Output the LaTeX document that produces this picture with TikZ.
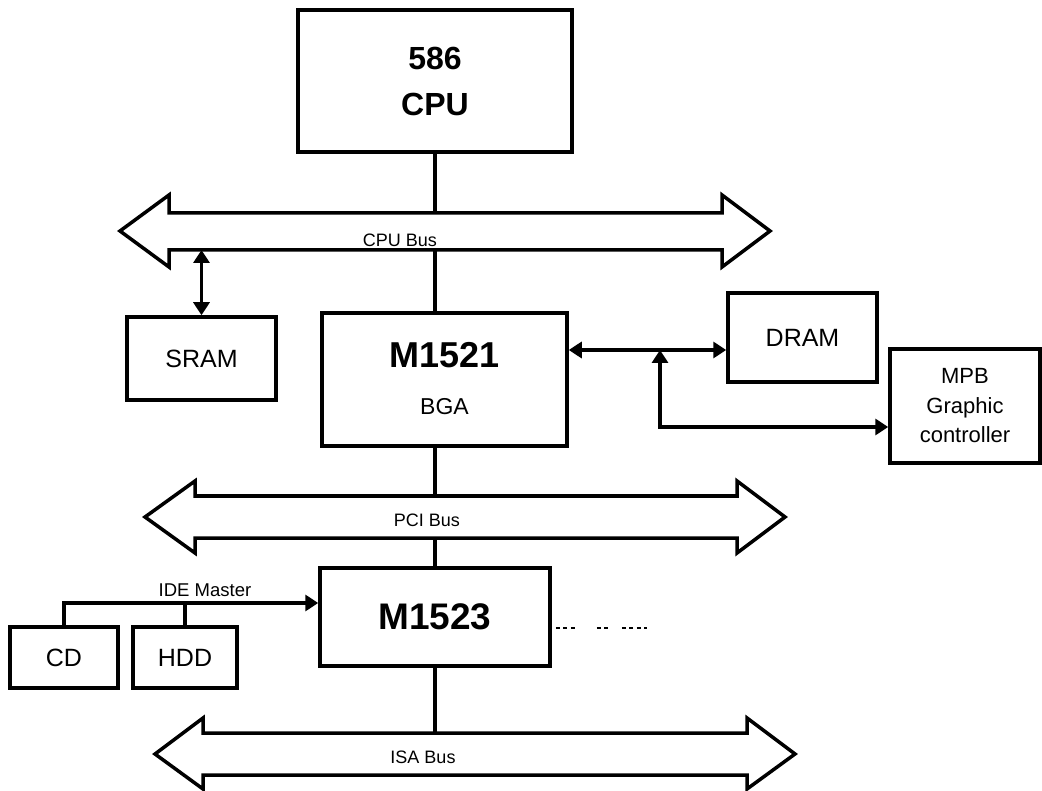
\documentclass[tikz,border=0pt]{standalone}
\usepackage{fontspec}
\setmainfont{Liberation Sans}
\usetikzlibrary{arrows.meta,positioning}

\begin{document}
\begin{tikzpicture}[x=1pt, y=-1pt,
  box/.style={draw, line width=3.5pt, inner sep=0pt, align=center, font=\fontsize{25}{30}\selectfont},
  txt/.style={inner sep=0pt, font=\fontsize{23}{28}\selectfont},
  title/.style={inner sep=0pt, font=\fontsize{36}{40}\selectfont\bfseries},
  bus/.style={draw, line width=3.5pt, line join=miter},
  buslabel/.style={inner sep=0pt, font=\fontsize{18}{20}\selectfont},
  wire/.style={line width=3.5pt},
  arr/.style={wire, -{Triangle[length=13pt,width=16pt]}},
  dblarr/.style={wire, {Triangle[length=13pt,width=16pt]}-{Triangle[length=13pt,width=16pt]}},
  dotline/.style={line width=2.5pt, dash pattern=on 4pt off 3.5pt on 4pt off 3.5pt on 4pt off 22pt on 4pt off 3.5pt on 4pt off 13.5pt on 4pt off 3.5pt on 4pt off 3.5pt on 4pt off 3.5pt on 4pt off 20pt}
]
\useasboundingbox (0,0) rectangle (1042,791);

% boxes
\node[box, minimum width=274pt, minimum height=142pt, font=\fontsize{32}{46}\selectfont\bfseries] (cpu) at (435,81) {586\\CPU};
\node[box, minimum width=245pt, minimum height=133pt] (m1521) at (444.5,379.5) {};
\node[title] (m1521name) at ([yshift=24.5pt]m1521.center) {M1521};
\node[txt] (bga) at ([yshift=-27.5pt]m1521.center) {BGA};
\node[box, minimum width=149pt, minimum height=83pt] (sram) at (201.5,358.5) {SRAM};
\node[box, minimum width=149pt, minimum height=89pt] (dram) at (802.5,337.5) {DRAM};
\node[box, minimum width=150pt, minimum height=114pt, font=\fontsize{22}{29.5}\selectfont] (mpb) at (965,406) {MPB\\Graphic\\controller};
\node[box, minimum width=230pt, minimum height=98pt, font=\fontsize{37}{40}\selectfont\bfseries] (m1523) at (435,617) {M1523};
\node[box, minimum width=108pt, minimum height=61pt] (cd) at (64,657.5) {CD};
\node[box, minimum width=104pt, minimum height=61pt] (hdd) at (185,657.5) {HDD};

% buses
\draw[bus] (120,231) -- (169,195) -- (169,213) -- (722,213) -- (722,195) -- (770,231)
  -- (722,267) -- (722,250) -- (169,250) -- (169,267) -- cycle;
\node[buslabel] (cpubus) at (400,240) {CPU Bus};
\coordinate (cpubusU) at (435,213);
\coordinate (cpubusL) at (435,250);

\draw[bus] (145,517) -- (195,481) -- (195,496) -- (737,496) -- (737,481) -- (785,517)
  -- (737,553) -- (737,538) -- (195,538) -- (195,553) -- cycle;
\node[buslabel] (pcibus) at (427,520) {PCI Bus};
\coordinate (pcibusU) at (435,496);
\coordinate (pcibusL) at (435,538);

\draw[bus] (155,754) -- (203,718) -- (203,733) -- (747,733) -- (747,718) -- (795,754)
  -- (747,789) -- (747,775) -- (203,775) -- (203,789) -- cycle;
\node[buslabel] (isabus) at (423,757) {ISA Bus};
\coordinate (isabusU) at (435,733);

% connectors
\draw[wire] (cpu.south) -- (cpubusU);
\draw[wire] (cpubusL) -- (cpubusL |- m1521.north);
\draw[dblarr] (sram.north) -- (sram.north |- cpubusL);
\coordinate (junc) at (660,350);
\draw[dblarr] (m1521.east |- junc) -- (dram.west |- junc);
\draw[dblarr] (junc) |- ([yshift=-21pt]mpb.west);
\draw[wire] (m1521.south -| cpubusL) -- (pcibusU);
\draw[wire] (pcibusL) -- (pcibusL |- m1523.north);
\draw[wire] (m1523.south) -- (isabusU);

\coordinate (ide) at (64,603);
\draw[arr] (cd.north) |- (ide -| m1523.west);
\draw[wire] (hdd.north) -- (hdd.north |- ide);
\node[inner sep=0pt, font=\fontsize{18.5}{20}\selectfont] (idemaster) at (205,590) {IDE Master};

\coordinate (dotend) at (647,628);
\draw[dotline] (m1523.east |- dotend) ++(4,0) -- (dotend);
\end{tikzpicture}
\end{document}
